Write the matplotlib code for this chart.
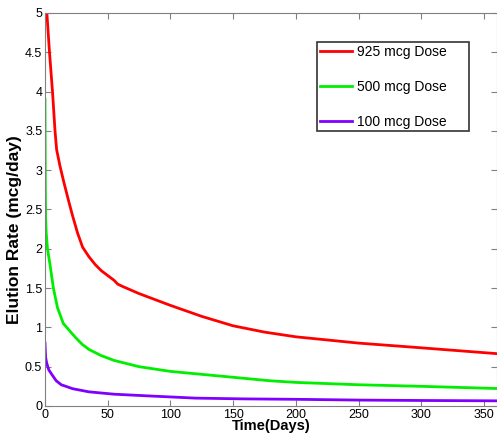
import matplotlib
matplotlib.use("Agg")
import matplotlib.pyplot as plt

plt.rcParams['font.family'] = ['Liberation Sans', 'DejaVu Sans']

# days and elution rates (mcg/day)
t_925 = [0, 1.5, 3.6, 6, 8, 9.3, 12, 15, 19, 22, 26, 30, 35, 40, 45, 50, 55, 58, 62, 75, 100, 125, 150, 175, 200, 250, 300, 365]
r_925 = [5.6, 5.0, 4.5, 4.0, 3.5, 3.26, 3.05, 2.85, 2.6, 2.42, 2.2, 2.02, 1.9, 1.8, 1.72, 1.66, 1.6, 1.55, 1.52, 1.43, 1.28, 1.14, 1.02, 0.94, 0.88, 0.80, 0.74, 0.66]

t_500 = [0, 0.25, 0.5, 1, 2, 4, 6.7, 10, 14.6, 20, 25, 30, 35, 45, 55, 75, 100, 140, 180, 200, 250, 300, 365]
r_500 = [3.9, 2.9, 2.4, 2.2, 2.0, 1.8, 1.5, 1.25, 1.05, 0.95, 0.86, 0.78, 0.72, 0.64, 0.58, 0.5, 0.44, 0.38, 0.32, 0.3, 0.27, 0.25, 0.22]

t_100 = [0, 0.5, 1.3, 3, 5.5, 9, 13, 22, 35, 55, 80, 120, 160, 200, 250, 300, 365]
r_100 = [0.8, 0.62, 0.55, 0.46, 0.4, 0.32, 0.27, 0.22, 0.18, 0.15, 0.13, 0.1, 0.09, 0.085, 0.075, 0.07, 0.065]

labels = ['925 mcg Dose', '500 mcg Dose', '100 mcg Dose']
colors = ['#ff0000', '#00ee00', '#7f00ff']

fig = plt.figure(figsize=(4.97, 4.33), dpi=100)
ax = fig.add_axes([0.0905, 0.0624, 0.9095, 0.9076])

for t, r, lab, c in zip([t_925, t_500, t_100], [r_925, r_500, r_100], labels, colors):
    ax.plot(t, r, color=c, lw=2, label=lab)

ax.set_xlim(0, 360.4)
ax.set_ylim(0, 5)
ax.set_xticks(range(0, 351, 50))
ax.set_yticks([0, 0.5, 1, 1.5, 2, 2.5, 3, 3.5, 4, 4.5, 5])
ax.set_yticklabels(['0', '0.5', '1', '1.5', '2', '2.5', '3', '3.5', '4', '4.5', '5'])
ax.tick_params(direction='in', labelsize=9, length=4, color='#808080', pad=2)
ax.tick_params(top=True, right=True)
for sp in ax.spines.values():
    sp.set_color('#808080')

ax.set_xlabel('Time(Days)', fontsize=10.5, fontweight='bold', labelpad=-1)
ax.set_ylabel('Elution Rate (mcg/day)', fontsize=12.5, fontweight='bold')
ax.yaxis.set_label_coords(-0.05, 0.45)

# trailing spaces give the extra right padding of the original box
leg = ax.legend([l + '     ' for l in labels], loc='upper left', bbox_to_anchor=(0.602, 0.926),
                fontsize=10, frameon=True, fancybox=False, labelspacing=1.5, handlelength=2.3,
                handletextpad=0.4, borderpad=0.2, borderaxespad=0)
leg.get_frame().set_edgecolor('black')
leg.get_frame().set_linewidth(1.2)

fig.savefig('out.png', dpi=100)
